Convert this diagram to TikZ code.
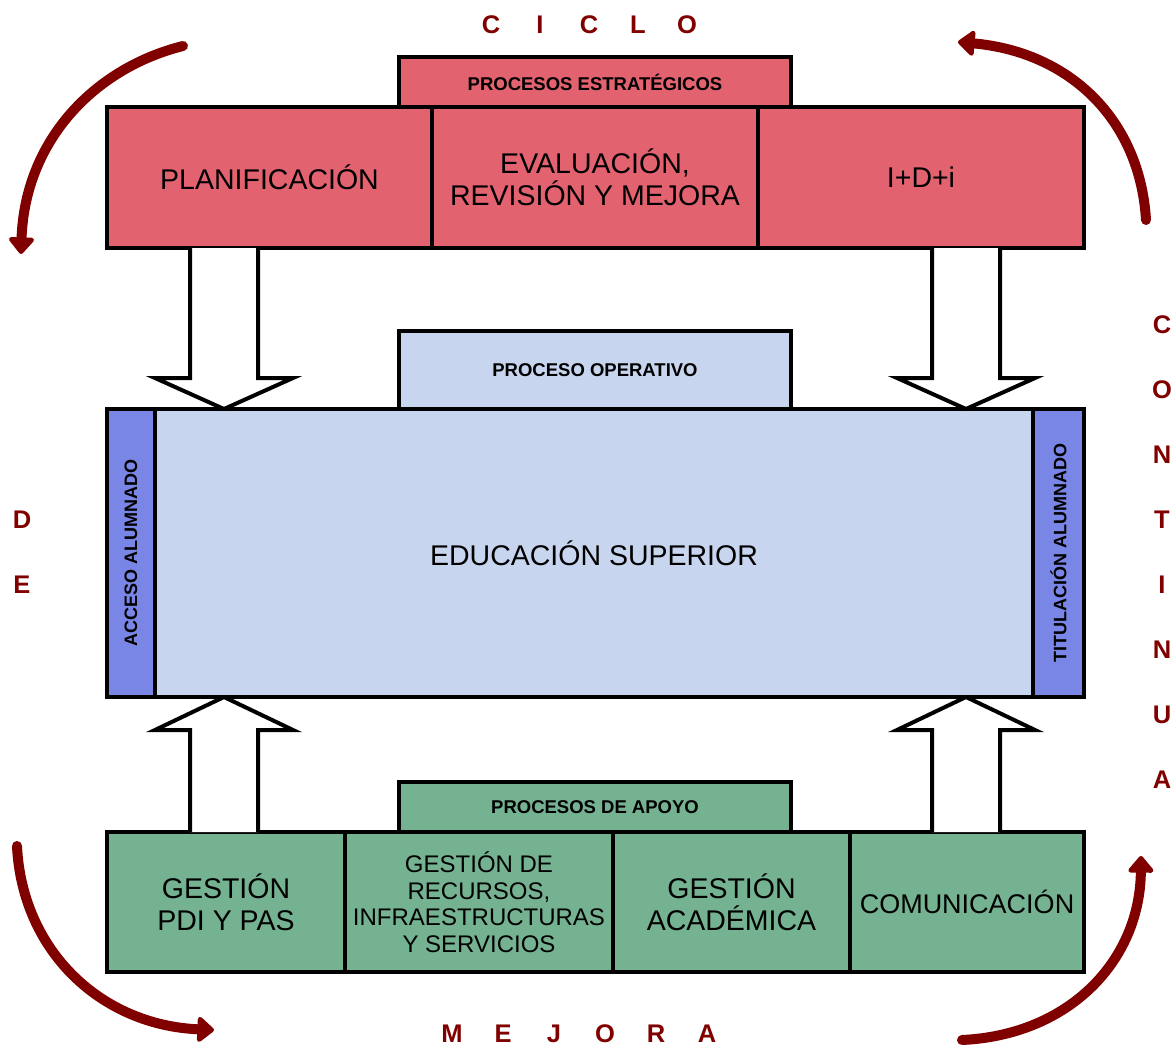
\documentclass[tikz,border=0pt]{standalone}
\usepackage{fontspec}
\setmainfont{Liberation Sans}
\usepackage{tikz}
\usetikzlibrary{arrows.meta, calc, positioning}
\definecolor{estrafill}{RGB}{226,98,112}
\definecolor{operfill}{RGB}{200,213,238}
\definecolor{stripfill}{RGB}{122,134,230}
\definecolor{apoyofill}{RGB}{116,178,146}
\definecolor{cyclered}{RGB}{128,0,0}
\tikzstyle{box} = [rectangle, draw=black, line width=4pt, outer sep=0pt, inner sep=2pt, align=center, text centered, font=\fontsize{28.5}{32}\selectfont]
\tikzstyle{tab} = [box, font=\fontsize{18.5}{21}\selectfont\bfseries]
\tikzstyle{strip} = [box, fill=stripfill, minimum height=288pt, font=\fontsize{18}{21}\selectfont\bfseries]
\tikzstyle{hollow} = [draw=black, line width=4pt, fill=white, line join=miter]
\tikzstyle{cycarrow} = [draw=cyclered, line width=10pt, line cap=round, -{Triangle[width=29pt,length=18pt,round]}]
\tikzstyle{cyc} = [text=cyclered, inner sep=0pt, font=\fontsize{25.5}{26}\selectfont\bfseries]
% hollow block arrow: shaft top, tip, signed head length
\newcommand{\blockarrow}[3]{%
  \draw[hollow] let \p1=(#1), \p2=(#2) in
    (\x1-34pt,\y1) -- (\x1-34pt,\y2+#3) -- (\x1-69pt,\y2+#3) -- (\x2,\y2)
    -- (\x1+69pt,\y2+#3) -- (\x1+34pt,\y2+#3) -- (\x1+34pt,\y1);}

\begin{document}
\begin{tikzpicture}[x=1pt, y=-1pt]
		\useasboundingbox (0,0) rectangle (1176,1046);
		% estrategicos
		\node (EstTab) [tab, fill=estrafill, minimum width=392pt, minimum height=50pt] at (595,82) {PROCESOS ESTRATÉGICOS};
		\node (Plan) [box, fill=estrafill, minimum width=325pt, minimum height=141pt] at (269.5,177.5) {PLANIFICACIÓN};
		\node (Eval) [box, fill=estrafill, minimum width=326pt, minimum height=141pt, right = 0pt of Plan] {EVALUACIÓN,\\REVISIÓN Y MEJORA};
		\node (IDi) [box, fill=estrafill, minimum width=326pt, minimum height=141pt, right = 0pt of Eval] {I+D+i};
		% operativo
		\node (OperTab) [tab, fill=operfill, minimum width=392pt, minimum height=78pt] at (595,370) {PROCESO OPERATIVO};
		\node (Acceso) [strip, minimum width=48pt] at (131,553) {\rotatebox{90}{ACCESO ALUMNADO}};
		\node (Edu) [box, fill=operfill, minimum width=878pt, minimum height=288pt, right = 0pt of Acceso] {EDUCACIÓN SUPERIOR};
		\node (Titu) [strip, minimum width=51pt, right = 0pt of Edu] {\rotatebox{90}{TITULACIÓN ALUMNADO}};
		% apoyo
		\node (ApoyoTab) [tab, fill=apoyofill, minimum width=392pt, minimum height=50pt] at (595,807) {PROCESOS DE APOYO};
		\node (Pdi) [box, fill=apoyofill, minimum width=238pt, minimum height=140pt] at (226,902) {GESTIÓN\\PDI Y PAS};
		\node (Recursos) [box, fill=apoyofill, minimum width=268pt, minimum height=140pt, right = 0pt of Pdi, font=\fontsize{24}{26.5}\selectfont] {GESTIÓN DE\\RECURSOS,\\INFRAESTRUCTURAS\\Y SERVICIOS};
		\node (Acad) [box, fill=apoyofill, minimum width=237pt, minimum height=140pt, right = 0pt of Recursos] {GESTIÓN\\ACADÉMICA};
		\node (Com) [box, fill=apoyofill, minimum width=234pt, minimum height=140pt, right = 0pt of Acad, font=\fontsize{27}{31}\selectfont] {COMUNICACIÓN};
		% flechas huecas
		\coordinate (colL) at (224,0);
		\coordinate (colR) at (966,0);
		\blockarrow{colL |- Plan.south}{colL |- Edu.north}{31pt}
		\blockarrow{colR |- IDi.south}{colR |- Edu.north}{31pt}
		\blockarrow{colL |- Pdi.north}{colL |- Edu.south}{-33pt}
		\blockarrow{colR |- Com.north}{colR |- Edu.south}{-33pt}
		% ciclo de mejora continua
		\foreach \l [count=\i] in {C,I,C,L,O}
			\node (ciclo\i) [cyc] at ({491+49*(\i-1)},25) {\l};
		\foreach \l [count=\i] in {D,E}
			\node (de\i) [cyc] at (22,{520+65*(\i-1)}) {\l};
		\foreach \l [count=\i] in {M,E,J,O,R,A}
			\node (mejora\i) [cyc] at ({452+51*(\i-1)},1034) {\l};
		\foreach \l [count=\i] in {C,O,N,T,I,N,U,A}
			\node (continua\i) [cyc] at (1162,{325+65*(\i-1)}) {\l};
		\coordinate (tlA) at (183,46);
		\coordinate (tlB) at (21,254);
		\coordinate (blA) at (17,846);
		\coordinate (blB) at (214,1030);
		\coordinate (brA) at (962,1040);
		\coordinate (brB) at (1141,856);
		\coordinate (trA) at (1146,220);
		\coordinate (trB) at (958,42);
		\draw [cycarrow] (tlA) .. controls (95,68) and (25,140) .. (tlB);
		\draw [cycarrow] (blA) .. controls (22,950) and (100,1025) .. (blB);
		\draw [cycarrow] (brA) .. controls (1070,1035) and (1140,960) .. (brB);
		\draw [cycarrow] (trA) .. controls (1140,120) and (1070,52) .. (trB);
		\end{tikzpicture}
\end{document}
